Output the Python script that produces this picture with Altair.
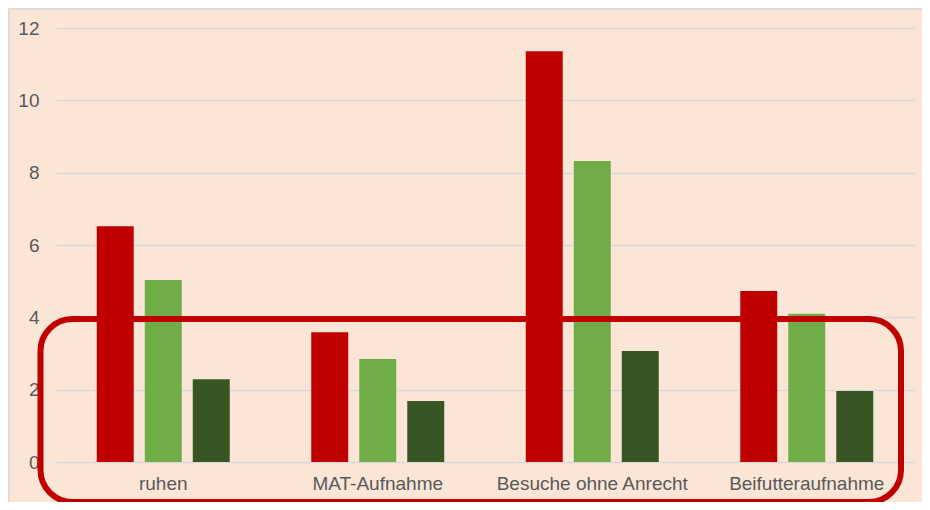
import altair as alt
import pandas as pd

categories = ["ruhen", "MAT-Aufnahme", "Besuche ohne Anrecht", "Beifutteraufnahme"]
series = ["Reihe 1", "Reihe 2", "Reihe 3"]
values_s1 = [6.52, 3.59, 11.36, 4.73]
values_s2 = [5.03, 2.85, 8.32, 4.10]
values_s3 = [2.29, 1.69, 3.07, 1.96]
colors = ["#C00000", "#70AD47", "#375623"]
y_ticks = [0, 2, 4, 6, 8, 10, 12]

rows = []
for s, vals in zip(series, [values_s1, values_s2, values_s3]):
    for c, v in zip(categories, vals):
        rows.append({"cat": c, "series": s, "value": v})
df = pd.DataFrame(rows)

FONT = "Liberation Sans"
LABEL = "#595959"

bars = alt.Chart(df).mark_bar().encode(
    x=alt.X("cat:N", sort=categories,
            scale=alt.Scale(paddingInner=0.38, paddingOuter=0.19),
            axis=alt.Axis(title=None, labelAngle=0, domain=False, ticks=False, grid=False,
                          labelPadding=12, labelFontSize=19, labelColor=LABEL, labelFont=FONT,
                          labelLimit=0)),
    xOffset=alt.XOffset("series:N", sort=series,
                        scale=alt.Scale(paddingInner=0.23, paddingOuter=0)),
    y=alt.Y("value:Q", scale=alt.Scale(domain=[0, 12]),
            axis=alt.Axis(title=None, values=y_ticks, domain=False, ticks=False, grid=True,
                          gridColor="#D9D9D9", gridWidth=1.3, labelPadding=17,
                          labelFontSize=19, labelColor=LABEL, labelFont=FONT)),
    color=alt.Color("series:N", scale=alt.Scale(domain=series, range=colors), legend=None),
)

dummy = pd.DataFrame({"a": [0]})

frame = alt.Chart(dummy).mark_rect(fill="transparent", stroke="#D9D9D9", strokeWidth=1.5).encode(
    x=alt.value(-47), x2=alt.value(950), y=alt.value(-19), y2=alt.value(600)
)

highlight = alt.Chart(dummy).mark_rect(
    fill="transparent", stroke="#C00000", strokeWidth=6, cornerRadius=32
).encode(
    x=alt.value(-15.5), x2=alt.value(845), y=alt.value(291), y2=alt.value(474)
)

chart = alt.layer(frame, bars, highlight).properties(
    width=858, height=434,
    background="#FBE5D6",
    padding={"left": 48, "top": 20, "right": 8, "bottom": 40},
    autosize=alt.AutoSizeParams(type="none"),
).configure_view(stroke=None)

chart.save("out.html", embed_options={"renderer": "svg", "actions": False})
